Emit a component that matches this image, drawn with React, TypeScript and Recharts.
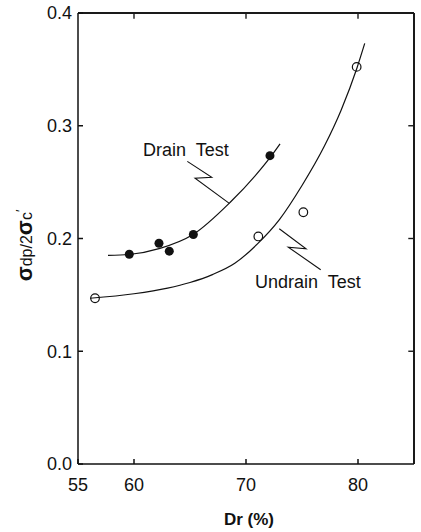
import { ComposedChart, Line, Scatter, XAxis, YAxis, ReferenceDot, ReferenceLine } from "recharts";

const FONT = '"Liberation Sans", Arial, Helvetica, sans-serif';
const INK = "#111";

// axis ticks
const xDomain = [55, 85];
const yDomain = [0, 0.4];
const xTicks = [55, 60, 70, 80];
const xInnerTicks = [60, 70, 80];
const yTicks = [0, 0.1, 0.2, 0.3, 0.4];
const yInnerTicks = [0.1, 0.2, 0.3];

// measured points
const drainPoints = [
  { x: 59.58, y: 0.186 },
  { x: 62.23, y: 0.1958 },
  { x: 63.15, y: 0.1888 },
  { x: 65.3, y: 0.2035 },
  { x: 72.14, y: 0.2735 },
];
const undrainPoints = [
  { x: 56.52, y: 0.147 },
  { x: 71.1, y: 0.2018 },
  { x: 75.12, y: 0.2233 },
  { x: 79.88, y: 0.3522 },
];

// hand drawn trend curves
const drainCurve = [
  { x: 57.68, y: 0.185 },
  { x: 59.55, y: 0.1858 },
  { x: 62.32, y: 0.1912 },
  { x: 65.27, y: 0.2035 },
  { x: 68.57, y: 0.2319 },
  { x: 70.98, y: 0.2575 },
  { x: 72.14, y: 0.2717 },
  { x: 73.04, y: 0.284 },
];
const undrainCurve = [
  { x: 56.07, y: 0.147 },
  { x: 60, y: 0.151 },
  { x: 63, y: 0.156 },
  { x: 65, y: 0.161 },
  { x: 67, y: 0.168 },
  { x: 69, y: 0.178 },
  { x: 71, y: 0.195 },
  { x: 73, y: 0.217 },
  { x: 75, y: 0.247 },
  { x: 77, y: 0.282 },
  { x: 78.5, y: 0.314 },
  { x: 79.9, y: 0.351 },
  { x: 80.6, y: 0.373 },
];

// zigzag leaders for the labels
const drainLeader = [
  { x: 64.76, y: 0.2684 },
  { x: 66.94, y: 0.2543 },
  { x: 65.45, y: 0.2534 },
  { x: 68.51, y: 0.2312 },
];
const undrainLeader = [
  { x: 72.97, y: 0.2086 },
  { x: 75.36, y: 0.1909 },
  { x: 73.78, y: 0.1923 },
  { x: 76.67, y: 0.1723 },
];

const drainLabel = { x: 60.8, y: 0.2735, text: "Drain  Test" };
const undrainLabel = { x: 70.8, y: 0.1558, text: "Undrain  Test" };

// top / right frame and its inward ticks
const [xMin, xMax] = xDomain;
const [yMin, yMax] = yDomain;
const xTickLen = (xMax - xMin) * 0.017;
const yTickLen = (yMax - yMin) * 0.013;

function YLabel({ viewBox }: any) {
  const vb = viewBox ?? { x: 0, y: 13, width: 78, height: 451 };
  const bx = vb.x + 32;
  const cy = vb.y + vb.height / 2 + 7;
  return (
    <text
      x={bx}
      y={cy}
      transform={`rotate(-90 ${bx} ${cy})`}
      textAnchor="middle"
      fontFamily={FONT}
      fill={INK}>
      <tspan fontSize={22} fontWeight="bold">σ</tspan>
      <tspan fontSize={16}>dp/2</tspan>
      <tspan fontSize={22} fontWeight="bold">σ</tspan>
      <tspan fontSize={16}>c</tspan>
      <tspan fontSize={13} dy={-7}>′</tspan>
    </text>
  );
}

const noteText = (text: string) => (p: any) => (
  <text x={p.cx} y={p.cy} fontFamily={FONT} fontSize={18} fill={INK} style={{ whiteSpace: "pre" }}>
    {text}
  </text>
);

export default function App() {
  return (
    <div style={{ position: "absolute", left: 0, top: 0, background: "#fff" }}>
      <ComposedChart width={421} height={532} margin={{ top: 13, right: 7, left: 0, bottom: 0 }}>
        <XAxis
          dataKey="x"
          type="number"
          domain={xDomain}
          ticks={xTicks}
          interval={0}
          height={68}
          stroke={INK}
          strokeWidth={1.5}
          tickSize={-5}
          tickMargin={19}
          tick={{ fill: INK, fontSize: 18, fontFamily: FONT }}
          label={{
            value: "Dr (%)",
            position: "insideBottom",
            offset: 7,
            dx: 3,
            fill: INK,
            fontSize: 17,
            fontWeight: "bold",
            fontFamily: FONT,
          }}
        />
        <YAxis
          dataKey="y"
          type="number"
          domain={yDomain}
          ticks={yTicks}
          interval={0}
          width={78}
          stroke={INK}
          strokeWidth={1.5}
          tickSize={-5}
          tickMargin={11}
          tickFormatter={(v: number) => v.toFixed(1)}
          tick={{ fill: INK, fontSize: 18, fontFamily: FONT }}
          label={<YLabel />}
        />

        <ReferenceLine y={yMax} stroke="#1a1a1a" strokeWidth={2} ifOverflow="visible" />
        <ReferenceLine x={xMax} stroke="#1a1a1a" strokeWidth={2} ifOverflow="visible" />
        {xInnerTicks.map((t) => (
          <ReferenceLine
            key={`tx${t}`}
            segment={[
              { x: t, y: yMax },
              { x: t, y: yMax - yTickLen },
            ]}
            stroke="#1a1a1a"
            strokeWidth={1.4}
            ifOverflow="visible"
          />
        ))}
        {yInnerTicks.map((t) => (
          <ReferenceLine
            key={`ty${t}`}
            segment={[
              { x: xMax, y: t },
              { x: xMax - xTickLen, y: t },
            ]}
            stroke="#1a1a1a"
            strokeWidth={1.4}
            ifOverflow="visible"
          />
        ))}

        <Line data={drainCurve} dataKey="y" type="monotone" stroke={INK} strokeWidth={1.2} dot={false} isAnimationActive={false} />
        <Line data={undrainCurve} dataKey="y" type="monotone" stroke={INK} strokeWidth={1.2} dot={false} isAnimationActive={false} />
        <Line data={drainLeader} dataKey="y" type="linear" stroke={INK} strokeWidth={1.1} dot={false} isAnimationActive={false} />
        <Line data={undrainLeader} dataKey="y" type="linear" stroke={INK} strokeWidth={1.1} dot={false} isAnimationActive={false} />

        <Scatter
          data={drainPoints}
          dataKey="y"
          isAnimationActive={false}
          shape={(p: any) => <circle cx={p.cx} cy={p.cy} r={4.5} fill={INK} />}
        />
        <Scatter
          data={undrainPoints}
          dataKey="y"
          isAnimationActive={false}
          shape={(p: any) => <circle cx={p.cx} cy={p.cy} r={4.3} fill="none" stroke={INK} strokeWidth={1.2} />}
        />

        <ReferenceDot x={drainLabel.x} y={drainLabel.y} r={0} shape={noteText(drainLabel.text)} />
        <ReferenceDot x={undrainLabel.x} y={undrainLabel.y} r={0} shape={noteText(undrainLabel.text)} />
      </ComposedChart>
    </div>
  );
}
